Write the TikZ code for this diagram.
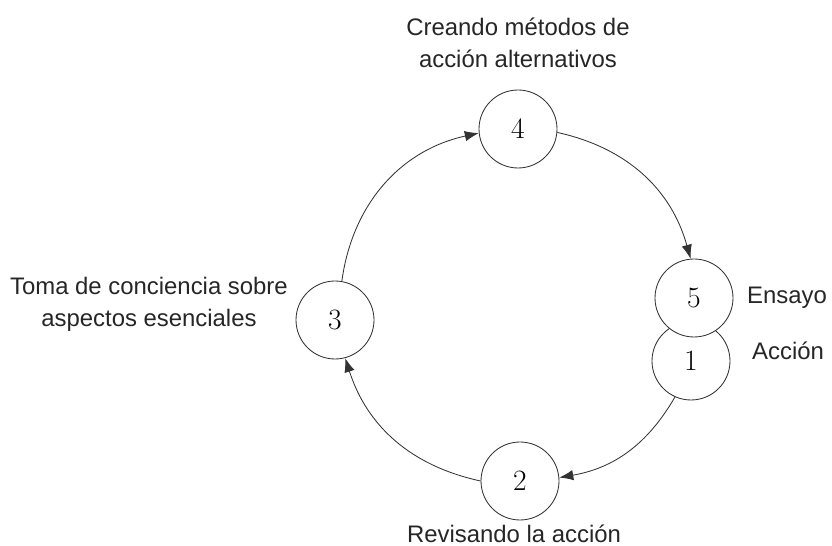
\documentclass[tikz,border=0pt]{standalone}
\usepackage{fontspec}
\setsansfont{Liberation Sans}
\usepackage{xcolor}
\usepackage{tikz}
\usetikzlibrary{arrows.meta, positioning, calc}

\begin{document}
\begin{tikzpicture}[
    node distance=0.3cm,
    stage/.style={draw=black!80, circle, minimum size=1.95cm, fill=white, line width=0.6pt, font=\fontsize{21}{25}\selectfont},
    lbl/.style={align=center, text=black!85, font=\sffamily\fontsize{17}{23}\selectfont},
    arrow/.style={-{Latex[length=3.5mm, width=2.6mm]}, line width=0.6pt, draw=black!80}
]
    \useasboundingbox (0,0) rectangle (20.8,13.65);

    % Stages of the cycle
    \node[stage] (n4) at (12.95,10.425) {4};
    \node[stage] (n3) at (8.375,5.65) {3};
    \node[stage] (n2) at (13.0,1.625) {2};
    \node[stage] (n1) at (17.275,4.625) {1};
    \node[stage] (n5) at (17.35,6.2) {5};

    % Labels
    \node[lbl, above=0.42cm of n4] (l4) {Creando métodos de\\acción alternativos};
    \node[lbl, left=0.07cm of n3, yshift=0.4cm] (l3) {Toma de conciencia sobre\\aspectos esenciales};
    \node[lbl, below=0cm of n2, xshift=-0.15cm] (l2) {Revisando la acción};
    \node[lbl, right=0.22cm of n5] (l5) {Ensayo};
    \node[lbl, right=0.42cm of n1, yshift=0.25cm] (l1) {Acción};

    % Arrows
    \draw[arrow] (n1.246) to[bend left=25] (n2.5);
    \draw[arrow] (n2.180) to[bend left=30] (n3.285);
    \draw[arrow] (n3.80) to[bend left=35] (n4.186);
    \draw[arrow] (n4.355) to[bend left=31] (n5.95);

\end{tikzpicture}
\end{document}
